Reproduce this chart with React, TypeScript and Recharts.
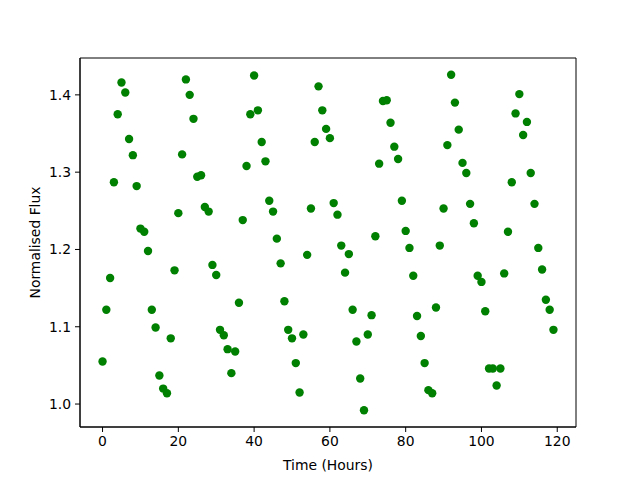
import { ReferenceArea, Scatter, ScatterChart, XAxis, YAxis } from "recharts";

// one reading per hour, 0..119
const hours: number[] = Array.from({ length: 120 }, (_, i) => i);

const flux: number[] = [
  1.055, 1.122, 1.163, 1.287, 1.375, 1.416, 1.403, 1.343, 1.322, 1.282,
  1.227, 1.223, 1.198, 1.122, 1.099, 1.037, 1.02, 1.014, 1.085, 1.173,
  1.247, 1.323, 1.42, 1.4, 1.369, 1.294, 1.296, 1.255, 1.249, 1.18,
  1.167, 1.096, 1.089, 1.071, 1.04, 1.068, 1.131, 1.238, 1.308, 1.375,
  1.425, 1.38, 1.339, 1.314, 1.263, 1.249, 1.214, 1.182, 1.133, 1.096,
  1.085, 1.053, 1.015, 1.09, 1.193, 1.253, 1.339, 1.411, 1.38, 1.356,
  1.344, 1.26, 1.245, 1.205, 1.17, 1.194, 1.122, 1.081, 1.033, 0.992,
  1.09, 1.115, 1.217, 1.311, 1.392, 1.393, 1.364, 1.333, 1.317, 1.263,
  1.224, 1.202, 1.166, 1.114, 1.088, 1.053, 1.018, 1.014, 1.125, 1.205,
  1.253, 1.335, 1.426, 1.39, 1.355, 1.312, 1.299, 1.259, 1.234, 1.166,
  1.158, 1.12, 1.046, 1.046, 1.024, 1.046, 1.169, 1.223, 1.287, 1.376,
  1.401, 1.348, 1.365, 1.299, 1.259, 1.202, 1.174, 1.135, 1.122, 1.096,
];

const xTicks = [0, 20, 40, 60, 80, 100, 120];
const yTicks = [1.0, 1.1, 1.2, 1.3, 1.4];

const xDomain = [-5.95, 124.95];
const yDomain = [0.9703, 1.4477];

const data = hours.map((h, i) => ({ time: h, flux: flux[i] }));

const font = { fontFamily: "DejaVu Sans", fontSize: 13.9, fill: "#000" };

const Dot = (props: any) => (
  <circle cx={props.cx} cy={props.cy} r={4.2} fill="#008000" />
);

export default function App() {
  return (
    <div style={{ position: "absolute", left: 0, top: 0, background: "#fff" }}>
      <ScatterChart
        width={640}
        height={480}
        margin={{ top: 58, right: 64, bottom: 0, left: 0 }}
      >
        <XAxis
          dataKey="time"
          type="number"
          domain={xDomain}
          ticks={xTicks}
          height={53}
          tickSize={5}
          tickMargin={4}
          tick={font}
          stroke="#000"
          allowDataOverflow
          label={{
            value: "Time (Hours)",
            position: "insideBottom",
            offset: 10,
            style: { ...font },
          }}
        />
        <YAxis
          dataKey="flux"
          type="number"
          domain={yDomain}
          ticks={yTicks}
          width={80}
          tickSize={5}
          tickMargin={4}
          tick={font}
          tickFormatter={(v: number) => v.toFixed(1)}
          stroke="#000"
          allowDataOverflow
          label={{
            value: "Normalised Flux",
            angle: -90,
            position: "insideLeft",
            offset: 35,
            style: { ...font, textAnchor: "middle" },
          }}
        />
        {/* axes frame (top and right spines) */}
        <ReferenceArea
          x1={xDomain[0]}
          x2={xDomain[1]}
          y1={yDomain[0]}
          y2={yDomain[1]}
          fill="none"
          fillOpacity={0}
          stroke="#000"
          strokeWidth={1}
          ifOverflow="visible"
        />
        <Scatter data={data} shape={Dot} isAnimationActive={false} />
      </ScatterChart>
    </div>
  );
}
